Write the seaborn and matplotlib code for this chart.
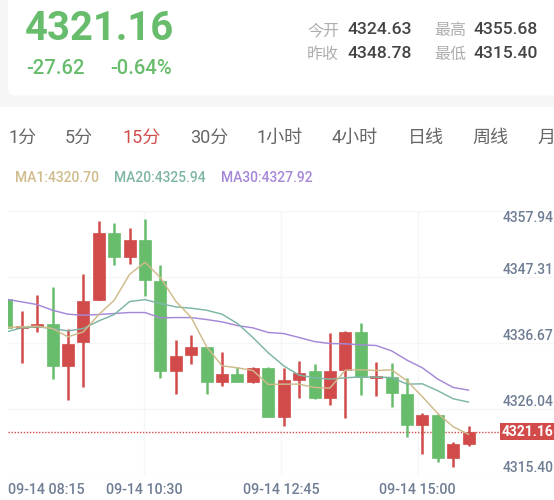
import matplotlib
matplotlib.use("Agg")
import matplotlib.pyplot as plt
from matplotlib.patches import FancyBboxPatch, Rectangle
from matplotlib.transforms import IdentityTransform
import numpy as np
import pandas as pd
import seaborn as sns

opens = [4343.71,4339.03,4339.25,4339.68,4332.86,4336.83,4343.60,4354.39,4350.47,4353.27,4346.71,4332.05,
         4334.63,4335.97,4330.28,4331.57,4330.33,4332.64,4324.69,4330.65,4332.05,4327.75,4332.27,4338.44,
         4331.08,4331.19,4328.34,4323.40,4325.07,4318.09,4320.40]
closes = [4339.14,4339.36,4339.68,4332.86,4336.56,4343.44,4354.39,4350.47,4353.27,4346.88,4332.05,4334.58,
          4335.92,4330.28,4331.57,4330.33,4332.64,4324.64,4330.60,4331.84,4327.75,4332.16,4338.44,4331.19,
          4331.25,4328.51,4323.40,4325.07,4318.09,4320.34,4322.28]
highs = [4343.71,4341.83,4344.46,4345.69,4338.98,4347.73,4356.33,4356.01,4355.15,4356.65,4349.18,4337.21,
         4337.91,4336.03,4335.22,4332.80,4332.80,4332.80,4332.64,4333.72,4333.29,4338.28,4338.66,4339.89,
         4333.61,4333.45,4330.92,4325.28,4325.12,4320.61,4323.24]
lows = [4339.14,4333.34,4338.44,4330.76,4327.43,4329.58,4343.54,4349.29,4349.35,4344.30,4331.08,4328.40,
        4333.18,4328.40,4329.69,4330.28,4330.12,4324.64,4323.30,4327.81,4327.54,4326.57,4324.58,4328.24,
        4328.02,4326.36,4321.42,4318.73,4317.49,4316.69,4320.02]
up_flags = [0,1,1,0,1,1,1,0,1,0,0,1,1,0,1,0,1,0,1,1,0,1,1,0,1,0,0,1,0,1,1]
ma1 = [4339.14,4339.25,4339.36,4338.98,4337.64,4338.44,4341.24,4343.54,4347.73,4349.67,4347.20,4343.38,
       4340.75,4336.03,4332.96,4332.64,4332.21,4329.96,4330.01,4330.01,4329.47,4329.37,4332.27,4332.32,
       4332.21,4332.32,4330.55,4327.97,4325.28,4323.13,4321.90]
ma20 = [4338.44,4339.09,4339.25,4338.98,4338.60,4338.98,4340.21,4341.24,4343.33,4343.65,4343.01,4342.47,
        4342.26,4341.93,4341.29,4339.79,4337.53,4335.06,4332.96,4331.46,4331.03,4330.82,4331.03,4331.19,
        4331.14,4331.08,4330.01,4330.06,4328.94,4327.65,4327.11]
ma30 = [4343.71,4343.28,4342.85,4341.93,4341.29,4341.13,4341.24,4341.40,4341.56,4341.56,4340.70,4340.75,
        4340.75,4340.43,4340.05,4339.46,4339.09,4338.34,4338.17,4337.53,4336.88,4336.56,4336.51,4336.35,
        4336.24,4335.38,4333.88,4332.64,4330.82,4329.47,4329.04]
y_tick_values = [4357.94,4347.31,4336.67,4326.04,4315.40]
y_tick_labels = ["4357.94","4347.31","4336.67","4326.04","4315.40"]
x_tick_values = [0.09,8.955,17.82,26.685]
x_tick_labels = ["09-14 08:15","09-14 10:30","09-14 12:45","09-14 15:00"]
last_price_level = 4322.33
last_price_label = "4321.16"
tabs = ["1分","5分","15分","30分","1小时","4小时","日线","周线","月"]
tab_left = [8.5,65,122.6,190,257,332,408,472,537]

RED = "#d24b4b"
GREEN = "#68bd6d"
TAN = "#cfbb8b"
TEAL = "#7db6a6"
PURPLE = "#a688d8"
AXIS_TXT = "#6e7d93"
FONT = ["Roboto", "Noto Sans CJK SC", "DejaVu Sans"]

sns.set_theme(style="white")
plt.rcParams["font.family"] = FONT

W, H = 554, 500
fig = plt.figure(figsize=(W/100, H/100), dpi=100, facecolor="white")


def px(x, y):
    return x / W, 1 - y / H


bg = Rectangle((0, H - 107), W, 107, transform=IdentityTransform(), facecolor="#f6f6f6", edgecolor="none", zorder=-3)
card = FancyBboxPatch((8 + 8, H - 95.5 + 8), W + 20, 120, boxstyle="round,pad=8,rounding_size=8",
                      transform=IdentityTransform(), facecolor="white", edgecolor="none", zorder=-2)
fig.patches.extend([bg, card])


def label(x, y, s, size, color, weight="normal", ha="left"):
    fx, fy = px(x, y)
    fig.text(fx, fy, s, fontsize=size, color=color, fontweight=weight, ha=ha, va="center")


label(25, 28.5, "4321.16", 28.8, GREEN, "bold")
label(26, 69, "-27.62", 14.6, GREEN, "medium")
label(110, 69, "-0.64%", 14.6, GREEN, "medium")
label(307, 30.5, "今开", 11.5, "#adadad")
label(347, 30, "4324.63", 12.6, "#444444", "medium")
label(434, 30.5, "最高", 11.5, "#adadad")
label(473.5, 30, "4355.68", 12.6, "#444444", "medium")
label(307, 54, "昨收", 11.5, "#adadad")
label(347, 53.5, "4348.78", 12.6, "#444444", "medium")
label(434, 54, "最低", 11.5, "#adadad")
label(473.5, 53.5, "4315.40", 12.6, "#444444", "medium")
for s, x in zip(tabs, tab_left):
    label(x, 137.5, s, 13, RED if s == "15分" else "#666666")
label(15.5, 178, "MA1:4320.70", 10, TAN, "medium")
label(114, 178, "MA20:4325.94", 10, TEAL, "medium")
label(220.5, 178, "MA30:4327.92", 10, PURPLE, "medium")

ax = fig.add_axes([7.7/W, (H-474.7)/H, (W-7.7)/W, (474.7-211)/H])
ax.patch.set_alpha(0)
idx = np.arange(len(opens))
colors = [RED if u else GREEN for u in up_flags]
ax.vlines(idx, lows, highs, colors=colors, linewidth=1.8, zorder=2)
bottoms = np.minimum(opens, closes)
heights = np.abs(np.array(opens) - np.array(closes))
ax.bar(idx, heights, bottom=bottoms, width=0.78, color=colors, linewidth=0.5, edgecolor=colors, zorder=3)

ma = pd.DataFrame({"idx": idx, "MA1": ma1, "MA20": ma20, "MA30": ma30})
for col, c in [("MA30", PURPLE), ("MA20", TEAL), ("MA1", TAN)]:
    sns.lineplot(data=ma, x="idx", y=col, color=c, linewidth=1.05, ax=ax, zorder=4)

ax.axhline(last_price_level, color=RED, linewidth=1, linestyle=(0, (1, 1.2)), zorder=1)

ax.set_xlim(0.09, 35.54)
ax.set_ylim(4315.40, 4357.94)
ax.set_xticks(x_tick_values, x_tick_labels)
ax.set_yticks(y_tick_values, y_tick_labels)
ax.set_xlabel("")
ax.set_ylabel("")
ax.grid(True, color="#f6f6f6", linewidth=1, zorder=0)
ax.set_axisbelow(True)
ax.get_xgridlines()[0].set_visible(False)
for s in ax.spines.values():
    s.set_visible(False)
ax.yaxis.tick_right()
ax.tick_params(axis="y", length=0, pad=-36.8, labelsize=10.0, labelcolor=AXIS_TXT)
ax.tick_params(axis="x", length=0, pad=6, labelsize=10.3, labelcolor=AXIS_TXT)
for lab in ax.get_yticklabels():
    lab.set_fontweight("medium")
    lab.set_horizontalalignment("left")
    lab.set_verticalalignment("bottom")
ax.get_yticklabels()[0].set_verticalalignment("top")
for lab in ax.get_xticklabels():
    lab.set_fontweight("medium")
ax.get_xticklabels()[0].set_horizontalalignment("left")

ax.annotate(last_price_label, xy=(1, last_price_level), xycoords=("axes fraction", "data"),
            xytext=(-0.5, 0), textcoords="offset pixels", ha="right", va="center",
            fontsize=10, fontweight="bold", color="white",
            bbox=dict(boxstyle="square,pad=0.1", facecolor=RED, edgecolor="none"), zorder=6,
            annotation_clip=False)

fig.savefig("out.png", dpi=100, facecolor=fig.get_facecolor())
